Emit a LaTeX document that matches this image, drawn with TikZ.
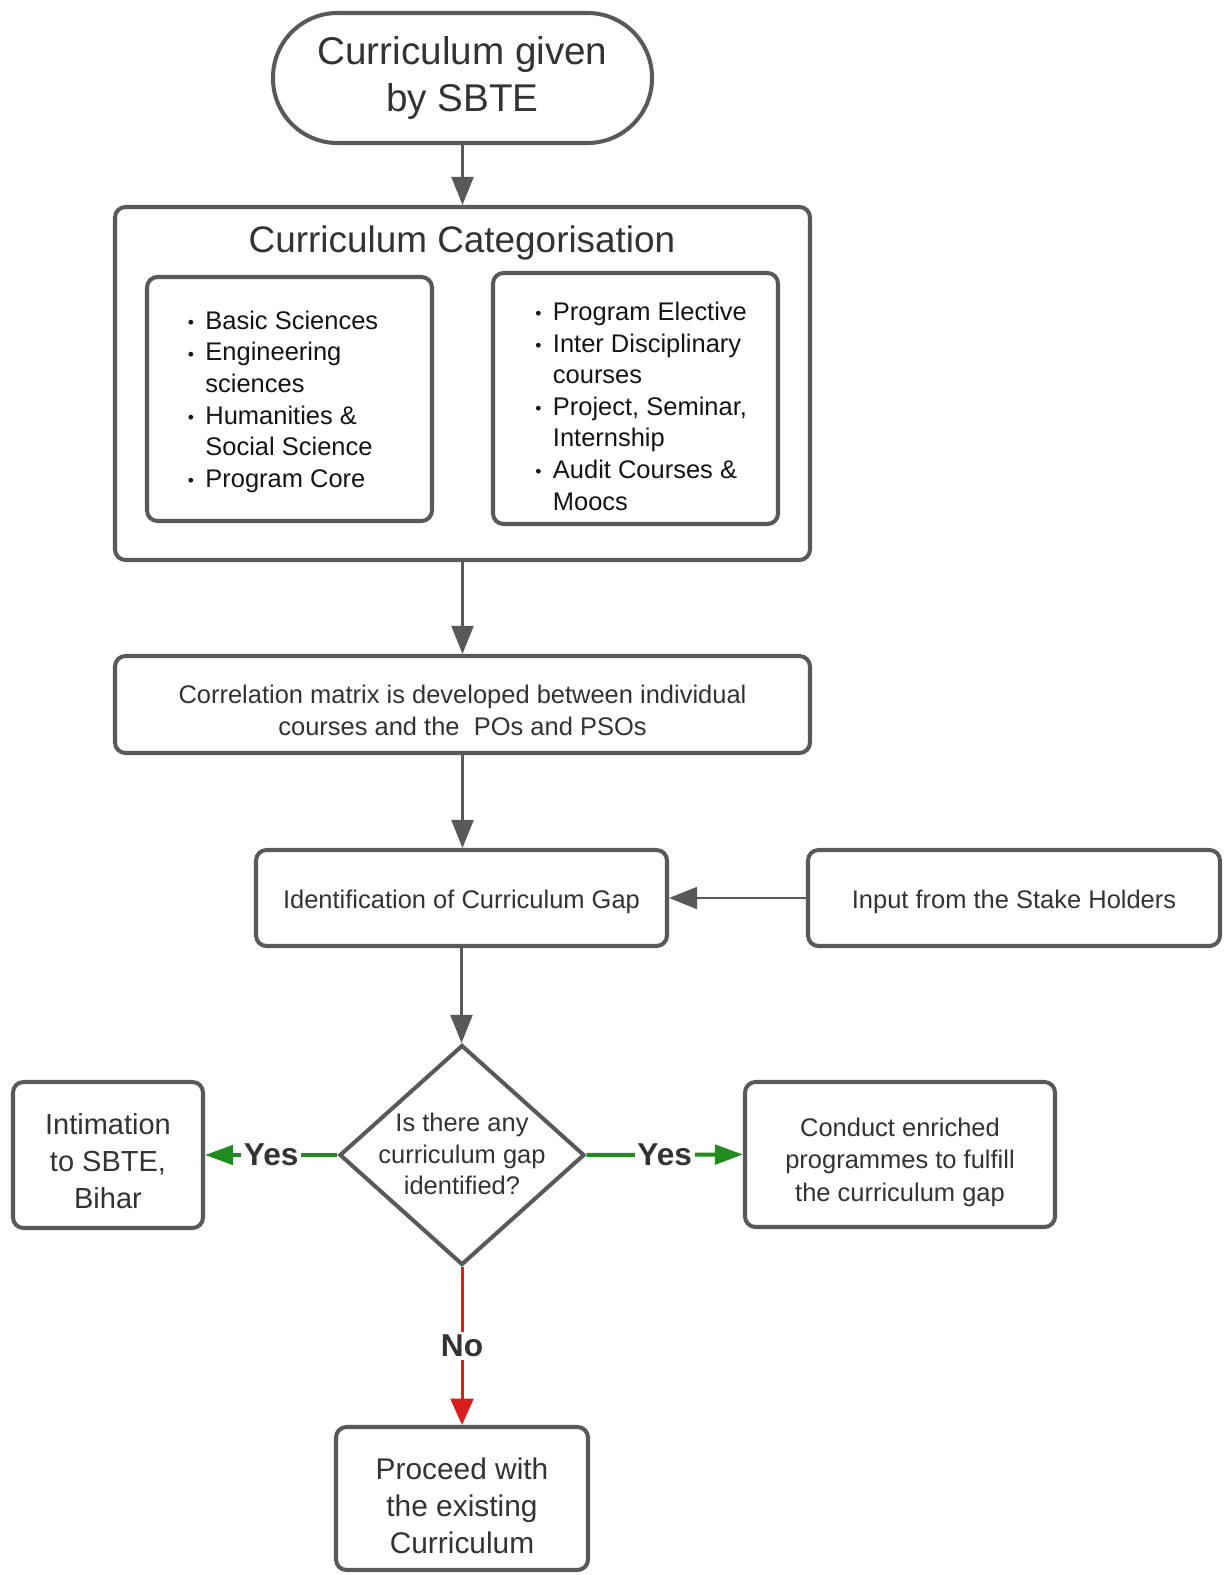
\documentclass[tikz,border=0pt]{standalone}
\usepackage{fontspec}
\setmainfont{Liberation Sans}
\usetikzlibrary{shapes.geometric,arrows.meta}
\definecolor{edge}{HTML}{595959}
\definecolor{ink}{HTML}{333333}
\definecolor{listink}{HTML}{151515}
\definecolor{yesgreen}{HTML}{1E8C1E}
\definecolor{nored}{HTML}{D81E1E}
\newcommand{\bul}{{\fontsize{10}{10}\selectfont\raisebox{0.5pt}{•}}}
\begin{document}
\begin{tikzpicture}[
  box/.style={draw=edge, line width=2.3pt, rounded corners=6pt, fill=white, inner sep=0pt},
  terminal/.style={draw=edge, line width=2.3pt, rounded corners=1.29cm,
              inner sep=0pt, align=center, text=ink},
  decision/.style={draw=edge, line width=2.3pt, shape=diamond, inner sep=0pt},
  flow/.style={draw=edge, line width=1.4pt, -{Triangle[length=16pt,width=12.5pt]}},
  yesarrow/.style={draw=yesgreen, line width=2.3pt, -{Triangle[length=16pt,width=11pt]}},
  noarrow/.style={draw=nored, line width=1.7pt, -{Triangle[length=15pt,width=13pt]}},
  lab/.style={fill=white, font=\bfseries\fontsize{18}{18}\selectfont, text=ink, inner sep=1.5pt},
  listtext/.style={anchor=west, inner sep=0pt, text=listink, font=\fontsize{14.5}{18}\selectfont},
  txt/.style={inner sep=0pt, align=center, text=ink},
  body/.style={txt, font=\fontsize{14.5}{18}\selectfont}
]
\useasboundingbox (0,0) rectangle (24.62,-31.5);

% start terminal
\node[terminal, minimum width=7.58cm, minimum height=2.6cm,
      font=\fontsize{22}{27}\selectfont] (start) at (9.25,-1.56) {Curriculum given\\by SBTE};

% categorisation frame with its two lists
\node[box, minimum width=13.9cm, minimum height=7.06cm] (cat) at (9.25,-7.67) {};
\node[txt, font=\fontsize{21}{24}\selectfont] (cattitle) at (9.24,-4.86) {Curriculum Categorisation};
\node[box, minimum width=5.7cm, minimum height=4.88cm] (left) at (5.79,-7.98) {};
\node[box, minimum width=5.7cm, minimum height=5.02cm] (right) at (12.71,-7.97) {};
\node[listtext] (leftlist) at (3.75,-8.04) {%
  \begin{tabular}{@{}l@{\hspace{6.5pt}}l@{}}
  \bul & Basic Sciences\\
  \bul & Engineering\\
       & sciences\\
  \bul & Humanities \&\\
       & Social Science\\
  \bul & Program Core
  \end{tabular}};
\node[listtext] (rightlist) at (10.7,-8.18) {%
  \begin{tabular}{@{}l@{\hspace{6.5pt}}l@{}}
  \bul & Program Elective\\
  \bul & Inter Disciplinary\\
       & courses\\
  \bul & Project, Seminar,\\
       & Internship\\
  \bul & Audit Courses \&\\
       & Moocs
  \end{tabular}};

% process steps
\node[box, minimum width=13.9cm, minimum height=1.94cm] (corr) at (9.25,-14.09) {};
\node[body] (corrtext) at ([yshift=-0.12cm]corr.center)
  {Correlation matrix is developed between individual\\courses and the\ \ POs and PSOs};
\node[box, minimum width=8.22cm, minimum height=1.92cm] (gap) at (9.23,-17.96) {};
\node[body] (gaptext) at ([yshift=-0.07cm]gap.center) {Identification of Curriculum Gap};
\node[box, minimum width=8.24cm, minimum height=1.92cm] (input) at (20.28,-17.96) {};
\node[body] (inputtext) at ([yshift=-0.07cm]input.center) {Input from the Stake Holders};

% decision and outcomes
\node[decision, minimum width=4.9cm, minimum height=4.4cm] (q) at (9.24,-23.1) {};
\node[body] (qtext) at (9.24,-23.08) {Is there any\\curriculum gap\\identified?};
\node[box, minimum width=3.8cm, minimum height=2.92cm] (sbte) at (2.16,-23.1) {};
\node[txt, font=\fontsize{16.5}{21}\selectfont] (sbtetext) at ([yshift=-0.12cm]sbte.center)
  {Intimation\\to SBTE,\\Bihar};
\node[box, minimum width=6.2cm, minimum height=2.9cm] (enrich) at (18.0,-23.09) {};
\node[txt, font=\fontsize{14.5}{18.5}\selectfont] (enrichtext) at ([yshift=-0.15cm]enrich.center)
  {Conduct enriched\\programmes to fulfill\\the curriculum gap};
\node[box, minimum width=5.04cm, minimum height=2.86cm] (proceed) at (9.24,-29.97) {};
\node[txt, font=\fontsize{17}{21}\selectfont] (proceedtext) at ([yshift=-0.15cm]proceed.center)
  {Proceed with\\the existing\\Curriculum};

% connectors
\draw[flow] (start.south) -- (start.south |- cat.north);
\draw[flow] (cat.south) -- (cat.south |- corr.north);
\draw[flow] (corr.south) -- (corr.south |- gap.north);
\draw[flow] (input.west) -- (gap.east);
\draw[flow] (gap.south) -- (gap.south |- q.north);
\draw[yesarrow] (q.west) -- node[lab] {Yes} (sbte.east);
\draw[yesarrow] (q.east) -- node[lab] {Yes} (enrich.west);
\draw[noarrow] (q.south) -- node[lab, pos=0.5] {No} (proceed.north);
\end{tikzpicture}
\end{document}
